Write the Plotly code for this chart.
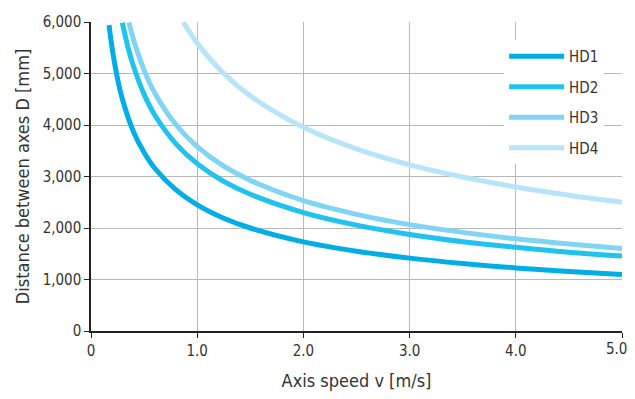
import plotly.graph_objects as go

# Data
hd1_v = [0.17, 0.2, 0.25, 0.3, 0.4, 0.5, 0.6, 0.8, 1.0, 1.25, 1.5, 2.0, 2.5, 3.0, 3.5, 4.0, 4.5, 5.0]
hd1_d = [5940, 5480, 4900, 4470, 3870, 3465, 3160, 2740, 2450, 2190, 2000, 1730, 1550, 1415, 1310, 1225, 1155, 1095]

hd2_v = [0.295, 0.35, 0.4, 0.5, 0.6, 0.8, 1.0, 1.25, 1.5, 2.0, 2.5, 3.0, 3.5, 4.0, 4.5, 5.0]
hd2_d = [5985, 5495, 5140, 4595, 4195, 3635, 3250, 2905, 2655, 2300, 2055, 1875, 1735, 1625, 1530, 1455]

hd3_v = [0.357, 0.4, 0.5, 0.6, 0.8, 1.0, 1.25, 1.5, 2.0, 2.5, 3.0, 3.5, 4.0, 4.5, 5.0]
hd3_d = [5990, 5660, 5065, 4620, 4005, 3580, 3200, 2925, 2530, 2265, 2065, 1915, 1790, 1690, 1600]

hd4_v = [0.87, 1.0, 1.25, 1.5, 2.0, 2.5, 3.0, 3.5, 4.0, 4.5, 5.0]
hd4_d = [5995, 5590, 5000, 4565, 3955, 3535, 3225, 2990, 2795, 2635, 2500]

series_names = ["HD1", "HD2", "HD3", "HD4"]
series_colors = ["#00aee6", "#1ec3f0", "#80d4f5", "#b6e4f8"]

x_tickvals = [0, 1, 2, 3, 4, 5]
x_ticktext = ["0", "1.0", "2.0", "3.0", "4.0", "5.0"]
y_tickvals = [0, 1000, 2000, 3000, 4000, 5000, 6000]

FONT = "DejaVu Sans Condensed, Liberation Sans Narrow, sans-serif"

fig = go.Figure()
for name, v, d, c in zip(series_names,
                         [hd1_v, hd2_v, hd3_v, hd4_v],
                         [hd1_d, hd2_d, hd3_d, hd4_d],
                         series_colors):
    fig.add_trace(go.Scatter(x=v, y=d, name=name, mode="lines",
                             line=dict(color=c, width=5, shape="spline"),
                             legendgroup=name))

# the last x tick label sits at the window edge; draw it as an annotation
# nudged slightly inward so it is not clipped
axis_ticktext = x_ticktext[:-1] + [""]
fig.add_annotation(x=x_tickvals[-1], y=0, xref="x", yref="paper",
                   text=x_ticktext[-1], showarrow=False,
                   xanchor="center", yanchor="top", xshift=-6, yshift=-7,
                   font=dict(family=FONT, size=15, color="#333333"))

# page body has an 8px margin, so the figure is offset by 8px
fig.update_layout(
    width=627, height=383,
    margin=dict(l=83, r=13, t=14, b=60),
    paper_bgcolor="white", plot_bgcolor="white",
    font=dict(family=FONT, size=15, color="#333333"),
    showlegend=True,
    legend=dict(x=0.778, y=0.942, xanchor="left", yanchor="top",
                bgcolor="white", borderwidth=0, tracegroupgap=8,
                itemwidth=55,
                font=dict(family=FONT, size=15, color="#333333")),
    xaxis=dict(range=[0, 5], tickvals=x_tickvals, ticktext=axis_ticktext,
               showgrid=True, gridcolor="#b8b8b8", gridwidth=1,
               showline=True, linecolor="#222222", linewidth=1.5,
               ticks="outside", ticklen=5, tickcolor="#222222",
               zeroline=False, automargin=False,
               title=dict(text="Axis speed v [m/s]", standoff=20)),
    yaxis=dict(range=[0, 6000], tickvals=y_tickvals, tickformat=",",
               showgrid=True, gridcolor="#b8b8b8", gridwidth=1,
               showline=True, linecolor="#222222", linewidth=1.5,
               ticks="outside", ticklen=5, tickcolor="#222222",
               zeroline=False, automargin=False,
               title=dict(text="Distance between axes D [mm]", standoff=8)),
)

fig.write_html("out.html")
